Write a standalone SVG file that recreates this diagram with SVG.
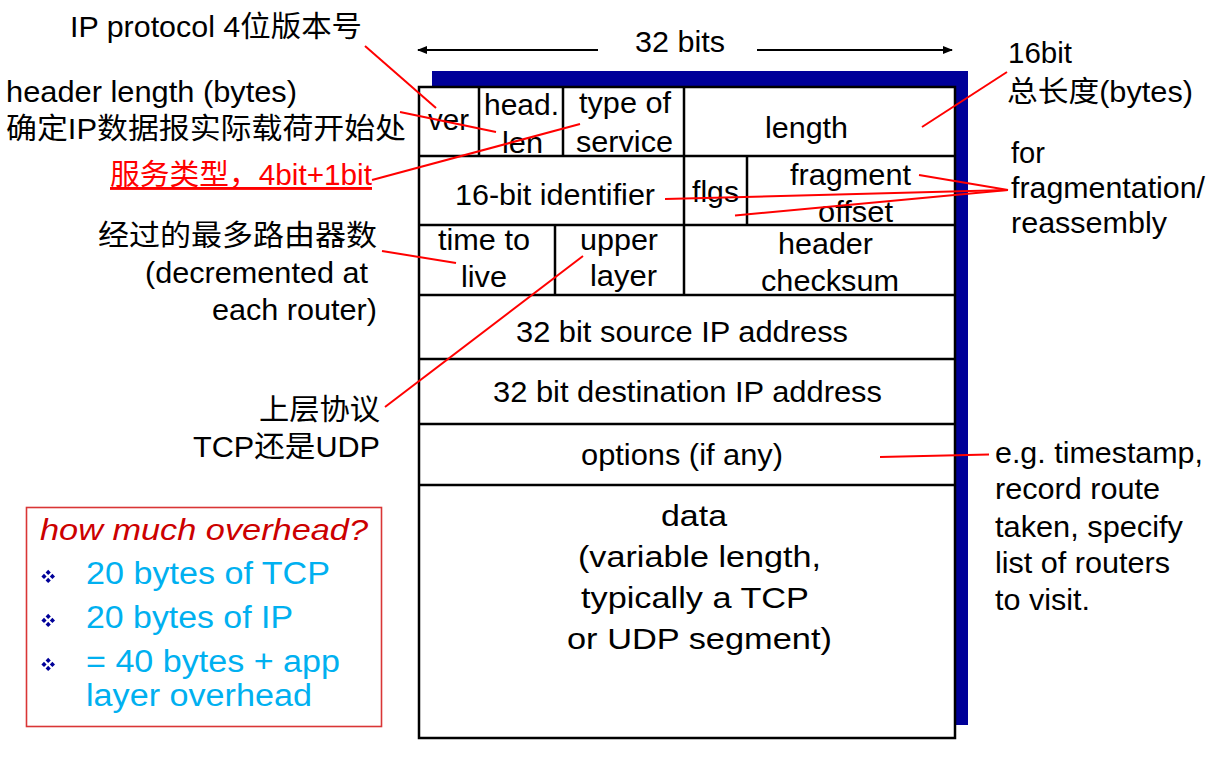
<svg xmlns="http://www.w3.org/2000/svg" xmlns:xlink="http://www.w3.org/1999/xlink" width="1226" height="758" viewBox="0 0 1226 758">
<style>
.t{font-family:"Liberation Sans",Arial,"Noto Sans CJK SC",sans-serif;font-size:29px;fill:#000}
.grid{stroke:#000;stroke-width:2.5;fill:none}
.box{stroke:#000;stroke-width:2.5;fill:#fff}
.red{stroke:#ff0000;stroke-width:2;fill:none}
.blue{font-size:31px;fill:#00b0f0}
.hd{font-size:30px;font-style:italic;fill:#cc0000}
.rt{fill:#ff0000}
</style>
<defs>
<marker id="ah" viewBox="0 0 10 8" refX="9" refY="4" markerWidth="10" markerHeight="8" markerUnits="userSpaceOnUse" orient="auto">
<path d="M0,0 L10,4 L0,8 Z" fill="#000"/>
</marker>
<g id="bul" fill="#000099">
<path d="M48.2,569.8 l2.6,2.6 -2.6,2.6 -2.6,-2.6Z"/>
<path d="M44,573.8 l2.6,2.6 -2.6,2.6 -2.6,-2.6Z"/>
<path d="M52.4,573.8 l2.6,2.6 -2.6,2.6 -2.6,-2.6Z"/>
<path d="M48.2,577.8 l2.6,2.6 -2.6,2.6 -2.6,-2.6Z"/>
</g>
</defs>
<rect width="1226" height="758" fill="#fff"/>

<g id="datagram">
<rect x="432" y="71" width="536" height="654" fill="#000099"/>
<rect x="419" y="87" width="536" height="651" class="box"/>
<path class="grid" d="M419,156H955M419,225H955M419,295H955M419,359H955M419,424H955M419,485H955M479,87V156M563,87V156M684,87V225M747,156V225M555,225V295M684,225V295"/>
</g>

<g id="width-label">
<text class="t" x="635" y="52" textLength="90" lengthAdjust="spacingAndGlyphs">32 bits</text>
</g>

<g id="f-ver"><text class="t" x="428" y="130" textLength="41" lengthAdjust="spacingAndGlyphs">ver</text></g>
<g id="f-hlen"><text class="t" x="484" y="115" textLength="75" lengthAdjust="spacingAndGlyphs">head.</text><text class="t" x="502" y="153" textLength="41" lengthAdjust="spacingAndGlyphs">len</text></g>
<g id="f-tos"><text class="t" x="579" y="113" textLength="92" lengthAdjust="spacingAndGlyphs">type of</text><text class="t" x="576" y="152" textLength="97" lengthAdjust="spacingAndGlyphs">service</text></g>
<g id="f-length"><text class="t" x="765" y="138" textLength="83" lengthAdjust="spacingAndGlyphs">length</text></g>
<g id="f-id"><text class="t" x="455" y="205" textLength="200" lengthAdjust="spacingAndGlyphs">16-bit identifier</text></g>
<g id="f-flgs"><text class="t" x="692" y="202" textLength="47" lengthAdjust="spacingAndGlyphs">flgs</text></g>
<g id="f-frag"><text class="t" x="790" y="185" textLength="121" lengthAdjust="spacingAndGlyphs">fragment</text><text class="t" x="818" y="222" textLength="75" lengthAdjust="spacingAndGlyphs">offset</text></g>
<g id="f-ttl"><text class="t" x="438" y="250" textLength="92" lengthAdjust="spacingAndGlyphs">time to</text><text class="t" x="461" y="287" textLength="46" lengthAdjust="spacingAndGlyphs">live</text></g>
<g id="f-upper"><text class="t" x="580" y="250" textLength="78" lengthAdjust="spacingAndGlyphs">upper</text><text class="t" x="590" y="286" textLength="67" lengthAdjust="spacingAndGlyphs">layer</text></g>
<g id="f-cksum"><text class="t" x="778" y="254" textLength="95" lengthAdjust="spacingAndGlyphs">header</text><text class="t" x="761" y="291" textLength="138" lengthAdjust="spacingAndGlyphs">checksum</text></g>
<g id="f-src"><text class="t" x="516" y="342" textLength="332" lengthAdjust="spacingAndGlyphs">32 bit source IP address</text></g>
<g id="f-dst"><text class="t" x="493" y="402" textLength="389" lengthAdjust="spacingAndGlyphs">32 bit destination IP address</text></g>
<g id="f-opt"><text class="t" x="581" y="465" textLength="202" lengthAdjust="spacingAndGlyphs">options (if any)</text></g>
<g id="f-data">
<text class="t" x="661" y="526" textLength="66" lengthAdjust="spacingAndGlyphs">data</text>
<text class="t" x="578" y="567" textLength="243" lengthAdjust="spacingAndGlyphs">(variable length,</text>
<text class="t" x="581" y="608" textLength="228" lengthAdjust="spacingAndGlyphs">typically a TCP</text>
<text class="t" x="567" y="649" textLength="265" lengthAdjust="spacingAndGlyphs">or UDP segment)</text>
</g>

<g id="lbl-ver"><text class="t" x="70" y="37" textLength="292" lengthAdjust="spacingAndGlyphs">IP protocol 4位版本号</text></g>
<g id="lbl-hlen">
<text class="t" x="6" y="102" textLength="291" lengthAdjust="spacingAndGlyphs">header length (bytes)</text>
<text class="t" x="6" y="139" textLength="400" lengthAdjust="spacingAndGlyphs">确定IP数据报实际载荷开始处</text>
</g>
<g id="lbl-tos"><text class="t rt" x="110" y="185" textLength="262" lengthAdjust="spacingAndGlyphs" text-decoration="underline">服务类型，4bit+1bit</text></g>
<g id="lbl-ttl">
<text class="t" x="98" y="246" textLength="279" lengthAdjust="spacingAndGlyphs">经过的最多路由器数</text>
<text class="t" x="145" y="283" textLength="223" lengthAdjust="spacingAndGlyphs">(decremented at</text>
<text class="t" x="212" y="320" textLength="165" lengthAdjust="spacingAndGlyphs">each router)</text>
</g>
<g id="lbl-upper">
<text class="t" x="259" y="420" textLength="121" lengthAdjust="spacingAndGlyphs">上层协议</text>
<text class="t" x="193" y="457" textLength="187" lengthAdjust="spacingAndGlyphs">TCP还是UDP</text>
</g>
<g id="lbl-length">
<text class="t" x="1008" y="63" textLength="64" lengthAdjust="spacingAndGlyphs">16bit</text>
<text class="t" x="1007" y="102" textLength="186" lengthAdjust="spacingAndGlyphs">总长度(bytes)</text>
</g>
<g id="lbl-frag">
<text class="t" x="1011" y="163" textLength="34" lengthAdjust="spacingAndGlyphs">for</text>
<text class="t" x="1011" y="198" textLength="194" lengthAdjust="spacingAndGlyphs">fragmentation/</text>
<text class="t" x="1011" y="233" textLength="156" lengthAdjust="spacingAndGlyphs">reassembly</text>
</g>
<g id="lbl-opt">
<text class="t" x="995" y="463" textLength="208" lengthAdjust="spacingAndGlyphs">e.g. timestamp,</text>
<text class="t" x="995" y="499" textLength="165" lengthAdjust="spacingAndGlyphs">record route</text>
<text class="t" x="995" y="537" textLength="188" lengthAdjust="spacingAndGlyphs">taken, specify</text>
<text class="t" x="995" y="573" textLength="175" lengthAdjust="spacingAndGlyphs">list of routers</text>
<text class="t" x="995" y="610" textLength="95" lengthAdjust="spacingAndGlyphs">to visit.</text>
</g>

<g id="overhead">
<rect x="26.5" y="507.5" width="355" height="219" fill="none" stroke="#d93636" stroke-width="1.6"/>
<text class="t hd" x="40" y="540" textLength="328" lengthAdjust="spacingAndGlyphs">how much overhead?</text>
<use xlink:href="#bul" href="#bul"/>
<use xlink:href="#bul" href="#bul" transform="translate(0,44)"/>
<use xlink:href="#bul" href="#bul" transform="translate(0,88)"/>
<text class="t blue" x="86" y="584" textLength="244" lengthAdjust="spacingAndGlyphs">20 bytes of TCP</text>
<text class="t blue" x="86" y="628" textLength="207" lengthAdjust="spacingAndGlyphs">20 bytes of IP</text>
<text class="t blue" x="86" y="672" textLength="254" lengthAdjust="spacingAndGlyphs">= 40 bytes + app</text>
<text class="t blue" x="86" y="706" textLength="226" lengthAdjust="spacingAndGlyphs">layer overhead</text>
</g>

<g id="connectors">
<line x1="598" y1="50" x2="418" y2="50" stroke="#000" stroke-width="2" marker-end="url(#ah)"/>
<line x1="757" y1="50" x2="952" y2="50" stroke="#000" stroke-width="2" marker-end="url(#ah)"/>
<line class="red" x1="365" y1="46" x2="436" y2="108"/>
<line class="red" x1="400" y1="112" x2="496" y2="132"/>
<line class="red" x1="372" y1="180" x2="580" y2="124"/>
<line class="red" x1="1007" y1="72" x2="922" y2="127"/>
<line class="red" x1="1008" y1="190" x2="919" y2="175"/>
<line class="red" x1="1008" y1="190" x2="665" y2="199"/>
<line class="red" x1="1008" y1="190" x2="735" y2="215.5"/>
<line class="red" x1="382" y1="251" x2="456" y2="263"/>
<line class="red" x1="385" y1="407" x2="583" y2="256"/>
<line class="red" x1="880" y1="457" x2="989" y2="454.5"/>
</g>
</svg>
